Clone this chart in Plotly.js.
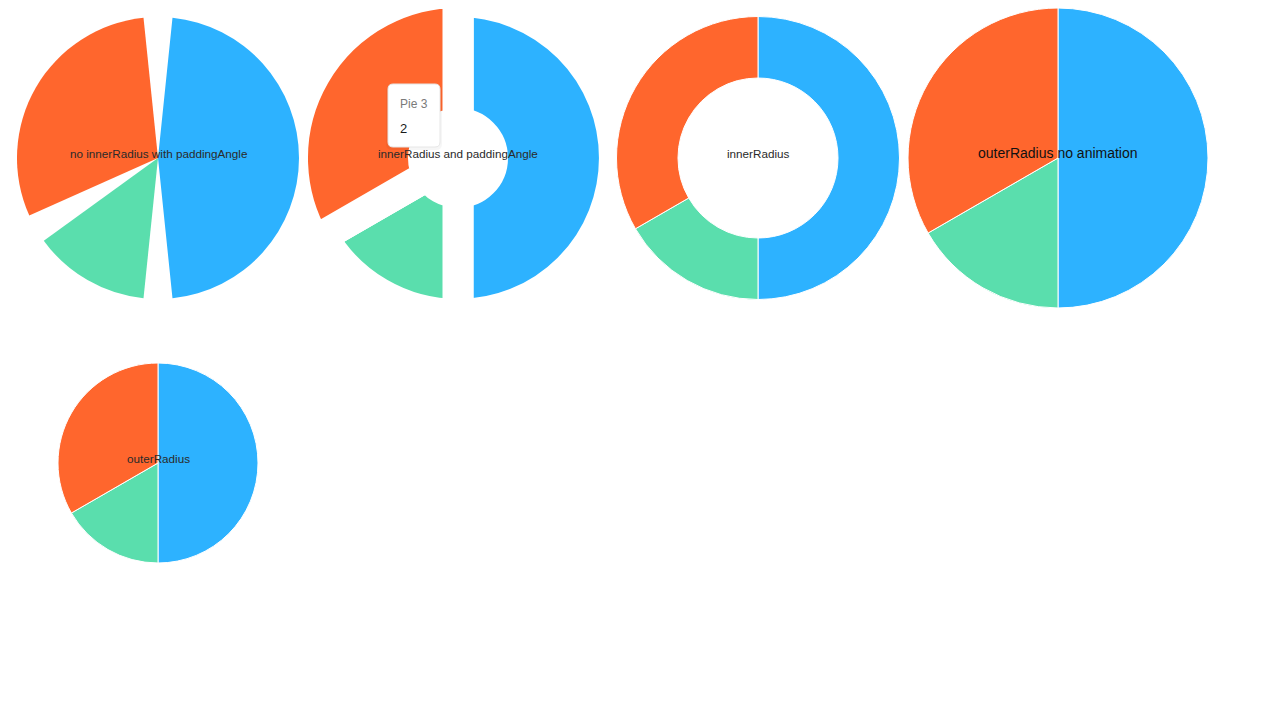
<!DOCTYPE html>
<html>
<head>
<meta charset="utf-8">
<script src="https://cdn.plot.ly/plotly-3.0.1.min.js"></script>
<style>
html,body{margin:0;padding:0;background:#fff;overflow:hidden;width:1280px;height:720px;}
#chart{width:1280px;height:760px;margin-top:-40px;}
</style>
</head>
<body>
<div id="chart"></div>
<script>
// ---- data ----
const labels = ['Pie 1', 'Pie 2', 'Pie 3'];
const values = [3, 1, 2];
const pieTitles = ['no innerRadius with paddingAngle', 'innerRadius and paddingAngle', 'innerRadius', 'outerRadius no animation', 'outerRadius'];
const tooltipLabel = 'Pie 3';
const tooltipValue = 2;

// ---- styles ----
const colors = ['#2DB2FF', '#5ADEAD', '#FF662D'];
const OFF = 40;              // hidden strip above the visible page (room for the hovered slice)
const W = 1280, H = 720 + OFF;
const CLEAR = 'rgba(0,0,0,0)';

function dom(cx, cy, r) {
  return { x: [(cx - r) / W, (cx + r) / W], y: [1 - (cy + OFF + r) / H, 1 - (cy + OFF - r) / H] };
}
const px = x => x / W;
const py = y => 1 - (y + OFF) / H;

const base = {
  type: 'pie', sort: false, direction: 'clockwise', rotation: 0,
  textinfo: 'none', hoverinfo: 'none', showlegend: false
};

// Pie 1: angular padding via transparent gap slices
const padDeg = 11.8;
const total = values.reduce((a, b) => a + b, 0);
const p1Vals = [], p1Labels = [], p1Colors = [];
values.forEach((v, i) => {
  p1Vals.push(v / total * 360 - padDeg); p1Labels.push(labels[i]); p1Colors.push(colors[i]);
  p1Vals.push(padDeg); p1Labels.push('gap' + i); p1Colors.push(CLEAR);
});

// Pie 2: constant-width padding via white stroke
const gapW = 31;
const p2c = [458, 158], p2R = 141, p2Inner = 50, p2Hover = 150;
const p2RDraw = p2R + gapW / 2;
const p2HDraw = p2Hover + gapW / 2;
const innerDraw = p2Inner - gapW / 2;
const hoverIdx = labels.indexOf(tooltipLabel);

const traces = [
  Object.assign({}, base, {
    values: values, labels: labels, domain: dom(p2c[0], p2c[1], p2RDraw), hole: innerDraw / p2RDraw,
    marker: { colors: colors, line: { color: '#ffffff', width: gapW } }
  }),
  Object.assign({}, base, {
    values: values, labels: labels, domain: dom(p2c[0], p2c[1], p2HDraw), hole: innerDraw / p2HDraw,
    marker: {
      colors: colors.map((c, i) => i === hoverIdx ? c : CLEAR),
      line: { color: '#ffffff', width: labels.map((l, i) => i === hoverIdx ? gapW : 0) }
    }
  }),
  Object.assign({}, base, {
    values: p1Vals, labels: p1Labels, domain: dom(158, 158, 141), rotation: padDeg / 2,
    marker: { colors: p1Colors, line: { width: 0 } }
  }),
  Object.assign({}, base, {
    values: values, labels: labels, domain: dom(758, 158, 141.5), hole: 80 / 141.5,
    marker: { colors: colors, line: { color: '#ffffff', width: 1 } }
  }),
  Object.assign({}, base, {
    values: values, labels: labels, domain: dom(1058, 158, 150),
    marker: { colors: colors, line: { color: '#ffffff', width: 1 } }
  }),
  Object.assign({}, base, {
    values: values, labels: labels, domain: dom(158, 463, 100),
    marker: { colors: colors, line: { color: '#ffffff', width: 1 } }
  })
];

const FONT = 'Liberation Sans, Arial, sans-serif';
const centers = [[158, 153.3], [458, 153.3], [758, 153.3], [1058, 153], [158, 458.3]];
const annotations = pieTitles.map((t, i) => ({
  text: t, xref: 'paper', yref: 'paper', x: px(centers[i][0]), y: py(centers[i][1]),
  xanchor: 'center', yanchor: 'middle', showarrow: false,
  font: { family: FONT, size: i === 3 ? 14 : 11.7, color: i === 3 ? '#111111' : '#2a2a2a' }
}));
annotations.push({
  text: tooltipLabel, xref: 'paper', yref: 'paper', x: px(398), y: py(104),
  xanchor: 'left', yanchor: 'middle', showarrow: false,
  font: { family: FONT, size: 12, color: '#7a7a7a' }
});
annotations.push({
  text: String(tooltipValue), xref: 'paper', yref: 'paper', x: px(398), y: py(128),
  xanchor: 'left', yanchor: 'middle', showarrow: false,
  font: { family: FONT, size: 13, color: '#1a1a1a' }
});

// tooltip box (rounded rectangle)
function roundRect(x0, y0, x1, y1, r) {
  const P = (x, y) => px(x) + ',' + py(y);
  return 'M' + P(x0 + r, y0) + ' L' + P(x1 - r, y0) + ' Q' + P(x1, y0) + ' ' + P(x1, y0 + r) +
    ' L' + P(x1, y1 - r) + ' Q' + P(x1, y1) + ' ' + P(x1 - r, y1) +
    ' L' + P(x0 + r, y1) + ' Q' + P(x0, y1) + ' ' + P(x0, y1 - r) +
    ' L' + P(x0, y0 + r) + ' Q' + P(x0, y0) + ' ' + P(x0 + r, y0) + ' Z';
}
const shapes = [
  { type: 'path', xref: 'paper', yref: 'paper', path: roundRect(386, 85, 442, 150, 6),
    fillcolor: 'rgba(0,0,0,0.035)', line: { width: 0 }, layer: 'above' },
  { type: 'path', xref: 'paper', yref: 'paper', path: roundRect(388, 84, 440, 147, 5),
    fillcolor: '#ffffff', line: { color: '#e6e6e6', width: 1 }, layer: 'above' }
];

const layout = {
  width: W, height: H, margin: { l: 0, r: 0, t: 0, b: 0 },
  paper_bgcolor: '#ffffff', showlegend: false,
  annotations: annotations, shapes: shapes
};
Plotly.newPlot('chart', traces, layout, { displayModeBar: false, staticPlot: true });
</script>
</body>
</html>
